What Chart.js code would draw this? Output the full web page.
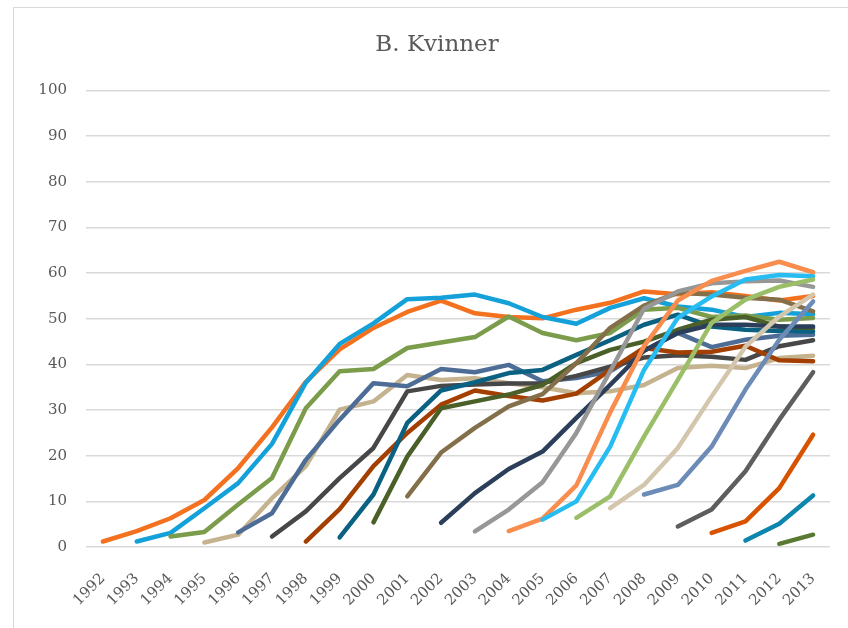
<!DOCTYPE html>
<html>
<head>
<meta charset="utf-8">
<script src="https://cdn.jsdelivr.net/npm/chart.js@4"></script>
<style>
  html, body { margin: 0; padding: 0; background: #fff; overflow: hidden; }
  #frame { position: absolute; left: 13px; top: 7px; width: 846px; height: 660px; border: 1px solid #d9d9d9; }
  #chart { position: absolute; left: 0; top: 0; }
</style>
</head>
<body>
<div id="frame"><canvas id="chart" width="846" height="620"></canvas></div>
<script>
// ---- data ----
const years = ['1992','1993','1994','1995','1996','1997','1998','1999','2000','2001','2002',
               '2003','2004','2005','2006','2007','2008','2009','2010','2011','2012','2013'];

// one line per cohort, values start at the cohort's first year
const c1992 = [1.2, 3.5, 6.3, 10.3, 17.3, 26.2, 36.2, 43.3, 48, 51.5, 54, 51.2, 50.4, 50.1, 52, 53.5, 56, 55.4, 55.8, 55, 54, 55];
const c1993 = [1.2, 3.1, 8.5, 14, 22.6, 36, 44.5, 49, 54.3, 54.6, 55.3, 53.4, 50.4, 48.9, 52.4, 54.5, 52.7, 52, 50.4, 51.3, 51];
const c1994 = [2.3, 3.3, 9.3, 15.1, 30.4, 38.5, 39, 43.6, 44.8, 46, 50.5, 46.9, 45.3, 46.9, 52, 52.4, 50.4, 50.7, 49.8, 50.2];
const c1995 = [1, 2.7, 10.7, 17.7, 30.1, 31.9, 37.7, 36.6, 37, 35.9, 35, 33.7, 34.1, 35.5, 39.2, 39.7, 39.2, 41.4, 41.9];
const c1996 = [3.2, 7.4, 19.1, 27.9, 35.9, 35.2, 39, 38.3, 39.9, 36.3, 37, 38.5, 43, 46.9, 43.8, 45.4, 46.3, 46.5];
const c1997 = [2.3, 7.8, 15.1, 21.7, 34.1, 35.3, 35.6, 35.8, 35.9, 37.5, 39.5, 41.5, 42, 41.7, 41, 44, 45.3];
const c1998 = [1.2, 8.3, 17.7, 25, 31.2, 34.3, 33.1, 32.1, 33.6, 38.8, 43.6, 42.6, 42.8, 44.1, 40.9, 40.7];
const c1999 = [2.1, 11.5, 27.2, 34.3, 36.1, 38.1, 38.8, 42.1, 45.3, 48.7, 50.9, 48.3, 47.6, 47.3, 47.2];
const c2000 = [5.4, 19.8, 30.4, 31.9, 33.4, 35.5, 40.3, 43.2, 45, 47.6, 49.8, 50.4, 48.3, 48];
const c2001 = [11.1, 20.7, 26.1, 30.8, 33.5, 40.3, 48, 52.9, 55.7, 55.3, 54.6, 54.2, 51.6];
const c2002 = [5.3, 11.8, 17.1, 20.9, 28.3, 35.5, 43, 46.9, 48.7, 48.7, 48.3, 48.3];
const c2003 = [3.4, 8.2, 14.2, 25, 38.5, 52.2, 56, 57.8, 58.2, 58.4, 57];
const c2004 = [3.5, 6.2, 13.5, 29.5, 44, 54, 58.3, 60.5, 62.5, 60.2];
const c2005 = [6, 10, 22, 38.8, 50.2, 54.9, 58.6, 59.6, 59.3];
const c2006 = [6.4, 11.1, 24.2, 36.6, 49.1, 54.2, 57, 58.6];
const c2007 = [8.5, 13.6, 21.7, 33, 43.9, 50.5, 55.3];
const c2008 = [11.5, 13.6, 22, 34.5, 45.4, 53.8];
const c2009 = [4.5, 8.2, 16.6, 27.9, 38.3];
const c2010 = [3.1, 5.6, 12.9, 24.6];
const c2011 = [1.4, 5.1, 11.3];
const c2012 = [0.7, 2.7];

const cohorts = [c1992, c1993, c1994, c1995, c1996, c1997, c1998, c1999, c2000, c2001, c2002,
                 c2003, c2004, c2005, c2006, c2007, c2008, c2009, c2010, c2011, c2012];

const colors = ['#F4711F', '#14A1DA', '#7B9D4B', '#C5B28F', '#4D6D96', '#474747', '#A33F00',
                '#0A6181', '#4B5F28', '#83704A', '#2B3E5A', '#979797', '#F98D4E', '#27BDF2',
                '#9BBE68', '#D4C6AC', '#6C8CB7', '#5E5E5E', '#D75300', '#0C86AC', '#5A7A33'];

const yTicks = { min: 0, max: 100, step: 10 };

// pad each cohort with nulls so it starts at its own year
const datasets = cohorts.map((vals, i) => ({
  label: years[i],
  data: Array(years.length - vals.length).fill(null).concat(vals),
  borderColor: colors[i],
  backgroundColor: colors[i],
  borderWidth: 4.5,
  borderCapStyle: 'round',
  borderJoinStyle: 'round',
  pointRadius: 0,
  pointHoverRadius: 0,
  tension: 0,
  fill: false,
  order: cohorts.length - i   // later cohorts drawn on top, like the original
}));

const serif = "'DejaVu Serif', serif";
const txt = '#595959';

// centre the title on the whole frame, not on the padded box
const centerTitle = {
  id: 'centerTitle',
  afterLayout(chart) {
    const t = chart.titleBlock;
    if (t) { t.left = 30; t.right = chart.width - 30; }
  }
};

new Chart(document.getElementById('chart').getContext('2d'), {
  type: 'line',
  data: { labels: years, datasets: datasets },
  plugins: [centerTitle],
  options: {
    responsive: false,
    animation: false,
    layout: { padding: { left: 0, right: 30, top: 0, bottom: 0 } },
    plugins: {
      legend: { display: false },
      tooltip: { enabled: false },
      title: {
        display: true,
        text: 'B. Kvinner',
        color: txt,
        font: { family: serif, size: 23, weight: 'normal', lineHeight: 1.2 },
        padding: { top: 23, bottom: 32 }
      }
    },
    scales: {
      x: {
        offset: true,
        grid: { display: false },
        border: { display: false },
        ticks: {
          autoSkip: false,
          minRotation: 45,
          maxRotation: 45,
          padding: 15,
          color: txt,
          font: { family: serif, size: 15 }
        },
        afterFit: (scale) => { scale.height = 81; }
      },
      y: {
        min: yTicks.min,
        max: yTicks.max,
        border: { display: false },
        grid: { color: '#d9d9d9', lineWidth: 1.5, drawTicks: false },
        ticks: {
          stepSize: yTicks.step,
          padding: 19,
          color: txt,
          font: { family: serif, size: 15 }
        },
        afterFit: (scale) => { scale.width = 72; }
      }
    }
  }
});
</script>
</body>
</html>
